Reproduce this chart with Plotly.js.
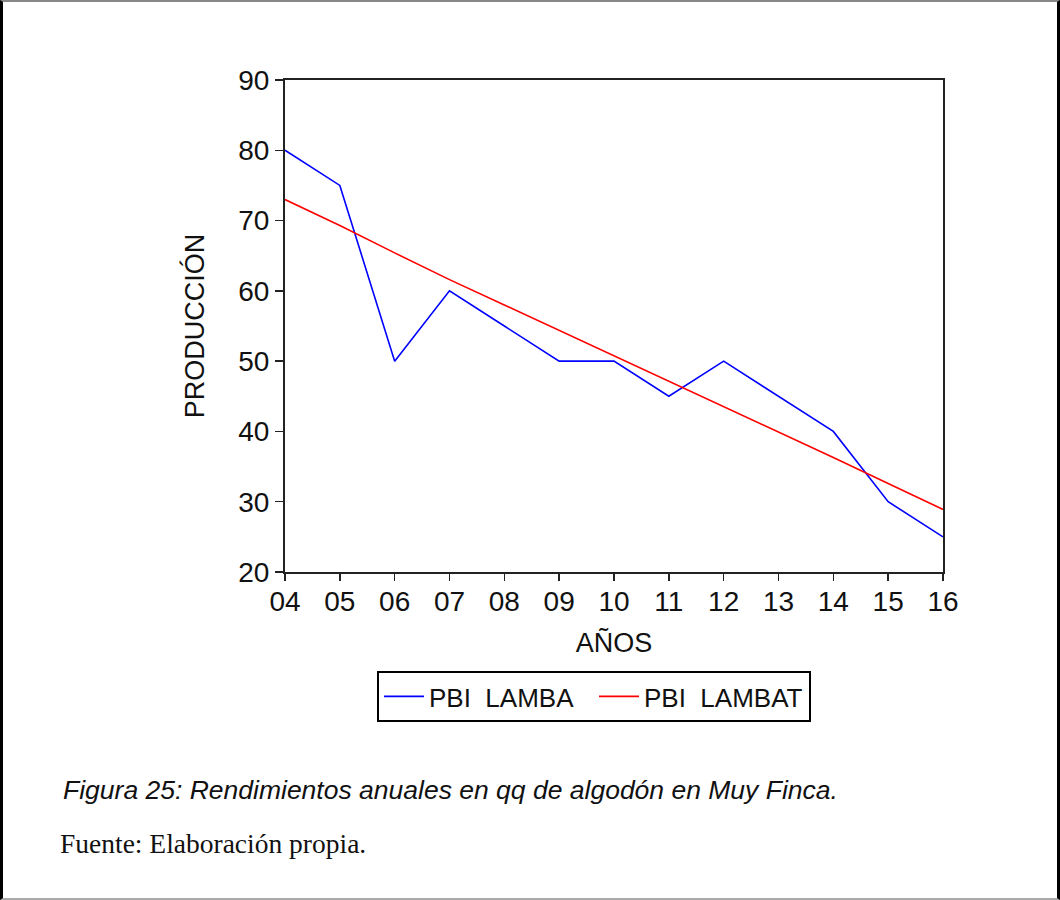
<!DOCTYPE html>
<html>
<head>
<meta charset="utf-8">
<script src="https://cdn.plot.ly/plotly-3.0.1.min.js"></script>
<style>
  html, body { margin: 0; padding: 0; background: #fff; }
  #wrap { position: relative; width: 1060px; height: 900px; }
  #chart { position: absolute; left: 0; top: 0; width: 1060px; height: 900px; }
  #frame { position: absolute; left: 0; top: 0; width: 1060px; height: 900px; box-sizing: border-box;
           border-left: 3px solid #000; border-right: 3px solid #000;
           border-top: 2px solid #888; border-bottom: 2px solid #aaa; pointer-events: none; }
</style>
</head>
<body>
<div id="wrap">
  <div id="chart"></div>
  <div id="frame"></div>
</div>
<script>
const years = ['04','05','06','07','08','09','10','11','12','13','14','15','16'];
const pbiLamba = [80, 75, 50, 60, 55, 50, 50, 45, 50, 45, 40, 30, 25];
const pbiLambat = [73.0, 69.3, 65.4, 61.6, 58.0, 54.4, 50.8, 47.2, 43.6, 40.0, 36.3, 32.6, 28.9];
const yTicks = [20, 30, 40, 50, 60, 70, 80, 90];

const FONT = '"Liberation Sans", Arial, sans-serif';
const L = 285, R = 943, T = 80, B = 572;
const W = 1060, H = 900;
const px2x = p => (p - L) / (R - L);
const px2y = p => (B - p) / (B - T);

const traces = [
  { x: years, y: pbiLamba, type: 'scatter', mode: 'lines', name: 'PBI\u00a0\u00a0LAMBA',
    line: { color: '#0000ff', width: 1.6 } },
  { x: years, y: pbiLambat, type: 'scatter', mode: 'lines', name: 'PBI\u00a0\u00a0LAMBAT',
    line: { color: '#ff0000', width: 1.6 } }
];

const layout = {
  width: W, height: H,
  margin: { l: L, r: W - R, t: T, b: H - B, pad: 0 },
  paper_bgcolor: '#fff', plot_bgcolor: '#fff',
  showlegend: true,
  font: { family: FONT, color: '#111' },
  xaxis: {
    type: 'category', range: [0, 12], showgrid: false, zeroline: false,
    showline: true, linecolor: '#222', linewidth: 2, mirror: true,
    ticks: 'outside', ticklen: 7, tickwidth: 1.5, tickcolor: '#222',
    ticklabelstandoff: -4,
    tickfont: { family: FONT, size: 28, color: '#111' },
    title: { text: 'AÑOS', font: { family: FONT, size: 27, color: '#111' }, standoff: 18 }
  },
  yaxis: {
    range: [20, 90], tickvals: yTicks, showgrid: false, zeroline: false,
    showline: true, linecolor: '#222', linewidth: 2, mirror: true,
    ticks: 'outside', ticklen: 8, tickwidth: 1.5, tickcolor: '#222',
    tickfont: { family: FONT, size: 28, color: '#111' },
    title: { text: 'PRODUCCIÓN', font: { family: FONT, size: 27, color: '#111' }, standoff: 26 }
  },
  legend: {
    orientation: 'h', xanchor: 'left', yanchor: 'top',
    x: px2x(377), y: px2y(671),
    bordercolor: '#000', borderwidth: 2, bgcolor: '#fff',
    font: { family: FONT, size: 26, color: '#111' },
    entrywidth: 160, entrywidthmode: 'pixels',
    itemwidth: 40, tracegroupgap: 0
  },
  annotations: [
    { text: '<i>Figura 25: Rendimientos anuales en qq de algodón en Muy Finca.</i>',
      xref: 'paper', yref: 'paper', x: px2x(61), y: px2y(790), xanchor: 'left', yanchor: 'middle',
      showarrow: false, font: { family: FONT, size: 26.5, color: '#111' } },
    { text: 'Fuente: Elaboración propia.',
      xref: 'paper', yref: 'paper', x: px2x(58), y: px2y(843), xanchor: 'left', yanchor: 'middle',
      showarrow: false, font: { family: '"Liberation Serif", "Times New Roman", serif', size: 27.5, color: '#111' } }
  ]
};

Plotly.newPlot('chart', traces, layout, { displayModeBar: false, staticPlot: true });
</script>
</body>
</html>
